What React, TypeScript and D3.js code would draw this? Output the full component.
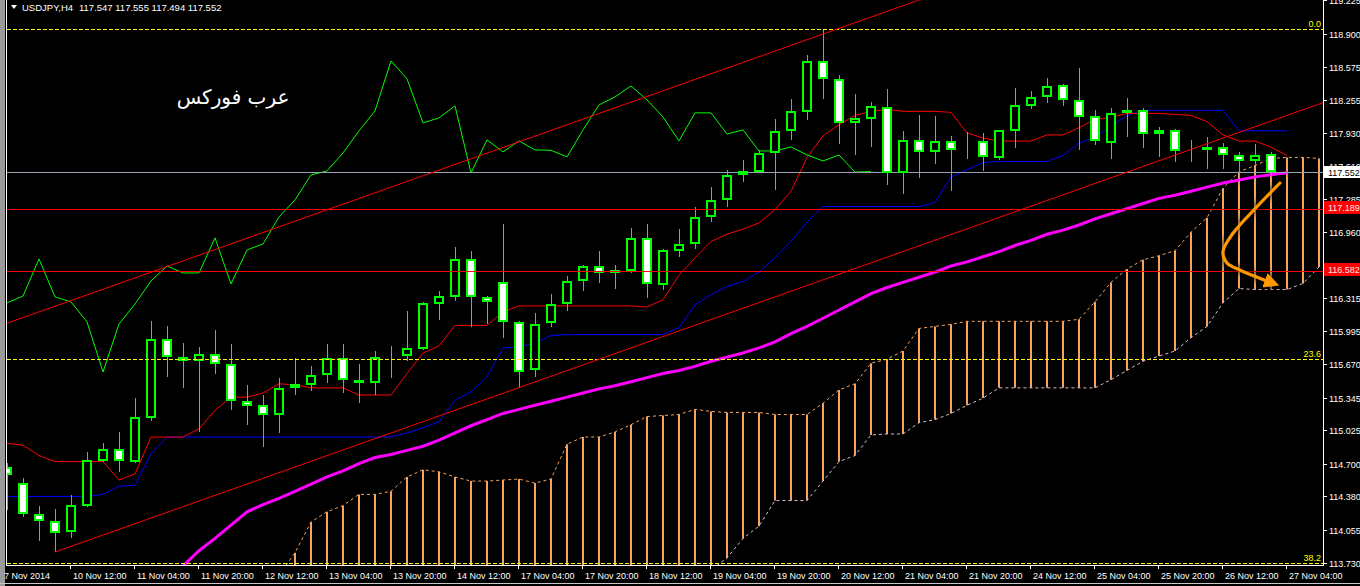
import React from "react";
import * as d3 from "d3";

// ---------- DATA ----------
const opens = [114.668, 114.511, 114.209, 114.140, 114.033, 114.287, 114.726, 114.843, 114.716, 115.146,
  115.918, 115.742, 115.703, 115.771, 115.673, 115.312, 115.273, 115.175, 115.439, 115.468,
  115.566, 115.732, 115.517, 115.488, 115.742, 115.751, 115.820, 116.259, 116.328, 116.699,
  116.328, 116.474, 116.084, 115.615, 116.074, 116.259, 116.484, 116.630, 116.591, 116.582,
  116.904, 116.445, 116.777, 116.845, 117.109, 117.275, 117.519, 117.548, 117.734, 117.949,
  118.134, 118.632, 118.457, 118.027, 118.066, 118.183, 117.539, 117.861, 117.744, 117.851,
  117.765, 117.851, 117.685, 117.949, 118.193, 118.281, 118.398, 118.251, 118.095, 117.832,
  118.154, 118.154, 117.919, 117.959, 117.763, 117.763, 117.793, 117.714, 117.656, 117.724,
  117.547];
const highs = [114.707, 114.560, 114.287, 114.257, 114.394, 114.814, 114.902, 115.009, 115.341, 116.093,
  116.044, 115.878, 115.839, 116.005, 115.869, 115.468, 115.371, 115.537, 115.732, 115.654,
  115.869, 115.869, 115.673, 115.800, 115.849, 116.191, 116.279, 116.386, 116.816, 116.777,
  116.337, 117.041, 116.093, 116.171, 116.357, 116.533, 116.640, 116.777, 116.640, 117.001,
  117.041, 116.796, 116.992, 117.207, 117.402, 117.568, 117.666, 117.763, 118.066, 118.261,
  118.691, 118.935, 118.496, 118.310, 118.232, 118.359, 117.949, 118.105, 118.095, 117.900,
  117.939, 117.929, 117.959, 118.369, 118.339, 118.466, 118.408, 118.564, 118.154, 118.173,
  118.271, 118.173, 117.988, 117.968, 117.861, 117.890, 117.832, 117.744, 117.822, 117.744,
  117.555];
const lows = [114.248, 114.179, 113.945, 113.837, 113.974, 114.277, 114.716, 114.619, 114.707, 115.117,
  115.546, 115.439, 115.009, 115.576, 115.224, 115.078, 114.863, 115.000, 115.371, 115.410,
  115.488, 115.390, 115.293, 115.371, 115.537, 115.703, 115.810, 116.103, 116.289, 116.035,
  116.064, 115.927, 115.439, 115.546, 116.035, 116.191, 116.386, 116.464, 116.406, 116.562,
  116.318, 116.396, 116.718, 116.796, 117.060, 117.207, 117.451, 117.538, 117.373, 117.861,
  118.056, 118.261, 117.822, 117.714, 117.793, 117.421, 117.334, 117.490, 117.626, 117.363,
  117.675, 117.558, 117.666, 117.783, 118.164, 118.222, 118.193, 117.763, 117.812, 117.675,
  117.890, 117.783, 117.695, 117.646, 117.646, 117.578, 117.578, 117.421, 117.617, 117.490,
  117.494];
const closes = [114.589, 114.209, 114.140, 114.023, 114.296, 114.736, 114.843, 114.726, 115.156, 115.918,
  115.742, 115.703, 115.771, 115.673, 115.312, 115.263, 115.175, 115.439, 115.478, 115.566,
  115.732, 115.517, 115.488, 115.742, 115.751, 115.830, 116.269, 116.337, 116.699, 116.328,
  116.279, 116.084, 115.595, 116.064, 116.259, 116.484, 116.630, 116.562, 116.562, 116.904,
  116.455, 116.787, 116.845, 117.109, 117.275, 117.519, 117.558, 117.734, 117.949, 118.144,
  118.632, 118.457, 118.027, 118.076, 118.193, 117.539, 117.861, 117.744, 117.851, 117.763,
  117.760, 117.695, 117.959, 118.203, 118.281, 118.388, 118.251, 118.085, 117.851, 118.125,
  118.125, 117.919, 117.959, 117.753, 117.753, 117.793, 117.714, 117.656, 117.714, 117.547,
  117.552];

const tenkan = [114.90, 114.88, 114.78, 114.72, 114.72, 114.72, 114.72, 114.54, 114.60, 114.96,
  114.96, 114.96, 115.04, 115.22, 115.35, 115.35, 115.39, 115.48, 115.47, 115.44,
  115.44, 115.44, 115.37, 115.37, 115.37, 115.58, 115.78, 115.85, 116.05, 116.05,
  116.05, 116.18, 116.24, 116.24, 116.24, 116.24, 116.24, 116.24, 116.24, 116.24,
  116.23, 116.30, 116.54, 116.71, 116.87, 116.94, 116.99, 117.05, 117.18, 117.36,
  117.69, 117.90, 118.01, 118.10, 118.14, 118.16, 118.14, 118.14, 118.14, 118.13,
  117.93, 117.88, 117.85, 117.85, 117.85, 117.91, 117.91, 117.98, 118.06, 118.08,
  118.12, 118.12, 118.12, 118.11, 118.10, 118.04, 117.91, 117.85, 117.85, 117.79,
  117.71];
const kijun = [114.38, 114.38, 114.38, 114.38, 114.38, 114.38, 114.40, 114.48, 114.49, 114.80,
  114.96, 114.96, 114.96, 114.96, 114.96, 114.96, 114.96, 114.96, 114.96, 114.96,
  114.96, 114.96, 114.96, 114.96, 114.96, 115.00, 115.05, 115.11, 115.32, 115.40,
  115.55, 115.83, 115.84, 115.88, 115.95, 115.96, 115.96, 115.96, 115.96, 115.96,
  115.96, 115.96, 116.03, 116.25, 116.35, 116.43, 116.48, 116.57, 116.71, 116.87,
  117.06, 117.21, 117.21, 117.21, 117.21, 117.21, 117.21, 117.21, 117.25, 117.50,
  117.57, 117.64, 117.65, 117.65, 117.65, 117.65, 117.71, 117.83, 117.89, 117.99,
  118.10, 118.15, 118.15, 118.15, 118.15, 118.15, 118.15, 117.95, 117.95, 117.95,
  117.95];

const chikouShift = 26;
const spanStart = 17;
const spanA = [113.61, 113.83, 114.13, 114.23, 114.29, 114.40, 114.40, 114.43, 114.57, 114.64,
  114.62, 114.57, 114.53, 114.53, 114.54, 114.55, 114.51, 114.55, 114.89, 114.96,
  114.96, 115.01, 115.08, 115.16, 115.17, 115.18, 115.23, 115.21, 115.20, 115.20,
  115.20, 115.18, 115.18, 115.18, 115.29, 115.42, 115.48, 115.68, 115.72, 115.80,
  116.02, 116.04, 116.06, 116.09, 116.09, 116.09, 116.09, 116.09, 116.09, 116.09,
  116.11, 116.28, 116.47, 116.60, 116.69, 116.73, 116.78, 116.96, 117.10, 117.39,
  117.55, 117.61, 117.68, 117.69, 117.69, 117.68];
const spanB = [113.30, 113.30, 113.30, 113.30, 113.30, 113.30, 113.30, 113.30, 113.30, 113.30,
  113.30, 113.30, 113.30, 113.30, 113.30, 113.30, 113.30, 113.30, 113.30, 113.30,
  113.30, 113.30, 113.30, 113.30, 113.40, 113.45, 113.52, 113.66, 113.78, 113.97,
  114.09, 114.34, 114.34, 114.34, 114.53, 114.72, 114.78, 114.98, 114.99, 114.99,
  115.10, 115.13, 115.19, 115.27, 115.34, 115.44, 115.44, 115.44, 115.44, 115.44,
  115.44, 115.44, 115.52, 115.61, 115.70, 115.75, 115.80, 115.93, 116.04, 116.27,
  116.41, 116.40, 116.40, 116.40, 116.46, 116.62];

const maStart = 11;
const maValues = [113.70, 113.85, 113.97, 114.10, 114.23, 114.30, 114.36, 114.43, 114.50, 114.57,
  114.63, 114.70, 114.76, 114.79, 114.83, 114.87, 114.93, 115.00, 115.07, 115.13,
  115.19, 115.23, 115.27, 115.31, 115.35, 115.39, 115.43, 115.46, 115.50, 115.54,
  115.58, 115.61, 115.65, 115.70, 115.74, 115.78, 115.83, 115.89, 115.97, 116.04,
  116.12, 116.20, 116.28, 116.36, 116.42, 116.47, 116.52, 116.57, 116.63, 116.67,
  116.72, 116.77, 116.83, 116.88, 116.94, 116.98, 117.03, 117.09, 117.14, 117.19,
  117.24, 117.29, 117.32, 117.36, 117.40, 117.44, 117.47, 117.50, 117.52, 117.54];

const priceTicks = [119.225, 118.900, 118.575, 118.255, 117.930, 117.610, 117.285, 116.960, 116.640,
  116.315, 115.995, 115.670, 115.345, 115.025, 114.700, 114.380, 114.055, 113.730];

const timeLabelBars = [4, 8, 12, 16, 20, 24, 28, 32, 36, 40, 44, 48, 52, 56, 60, 64, 68, 72, 76, 80];
const timeLabelTexts = ["10 Nov 12:00", "11 Nov 04:00", "11 Nov 20:00", "12 Nov 12:00", "13 Nov 04:00",
  "13 Nov 20:00", "14 Nov 12:00", "17 Nov 04:00", "17 Nov 20:00", "18 Nov 12:00", "19 Nov 04:00",
  "19 Nov 20:00", "20 Nov 12:00", "21 Nov 04:00", "21 Nov 20:00", "24 Nov 12:00", "25 Nov 04:00",
  "25 Nov 20:00", "26 Nov 12:00", "27 Nov 04:00"];
const firstDateLabel = "7 Nov 2014";

const bidPrice = 117.552;
const hlinePrices = [117.189, 116.582];

const fibHigh = 118.942;
const fibLow = 105.29;
const fibLevels = [0, 23.6, 38.2];
const fibTexts = ["0.0", "23.6", "38.2"];

const channelBar1 = 3;
const channelPrice1 = 113.837;
const channelBar2 = 80;
const channelPrice2 = 118.10;
const channelWidth = 2.40;

const arrowBars = [79.56, 78.13, 76.63, 76.0, 76.25, 77.06, 78.31, 79.15];
const arrowPrices = [117.44, 117.21, 116.95, 116.77, 116.66, 116.59, 116.51, 116.46];

const headerSymbol = "USDJPY,H4";
const headerQuotes = "117.547 117.555 117.494 117.552";
const watermark = "عرب فوركس";

const FONT = "'Liberation Sans', Arial, sans-serif";

export default function App() {
  const W = 1360, H = 586;
  const plotR = 1323, plotB = 565, plotL = 7;
  const x = d3.scaleLinear().domain([0, 80]).range([7, 1287]);
  const y = d3.scaleLinear().domain([113.73, 118.9]).range([563, 33.5]);
  const cx = (i: number) => Math.round(x(i));

  const line = d3.line<[number, number]>().x(d => x(d[0])).y(d => y(d[1]));

  const tenkanPts = tenkan.map((v, i) => [i, v] as [number, number]);
  const kijunPts = kijun.map((v, i) => [i, v] as [number, number]);
  const chikouPts = closes.slice(chikouShift).map((v, i) => [i, v] as [number, number]);
  const spanAPts = spanA.map((v, i) => [spanStart + i, v] as [number, number]);
  const spanBPts = spanB.map((v, i) => [spanStart + i, v] as [number, number]);
  const maPts = maValues.map((v, i) => [maStart + i, v] as [number, number]);

  const slope = (channelPrice2 - channelPrice1) / (channelBar2 - channelBar1);
  const barLeft = x.invert(plotL - 1);
  const barRight = x.invert(plotR);
  const lowerAt = (b: number) => channelPrice1 + (b - channelBar1) * slope;
  const lowerLine = line([[channelBar1, lowerAt(channelBar1)], [barRight, lowerAt(barRight)]]);
  const upperLine = line([[barLeft, lowerAt(barLeft) + channelWidth], [barRight, lowerAt(barRight) + channelWidth]]);

  const arrowPath = d3.line<[number, number]>()
    .x(d => x(d[0])).y(d => y(d[1]))
    .curve(d3.curveCatmullRom.alpha(0.5))(arrowBars.map((b, i) => [b, arrowPrices[i]] as [number, number]));

  const fibPrice = (lv: number) => fibHigh - (lv / 100) * (fibHigh - fibLow);

  return (
    <div style={{ position: "absolute", left: 0, top: 0, width: W, height: H }}>
      <svg width={W} height={H} style={{ display: "block", background: "#000" }}>
        <defs>
          <clipPath id="plot"><rect x={plotL} y={0} width={plotR - plotL} height={plotB} /></clipPath>
          <filter id="glow" x="-30%" y="-30%" width="160%" height="160%">
            <feGaussianBlur in="SourceAlpha" stdDeviation="3" result="b" />
            <feFlood floodColor="#000" floodOpacity="0.85" />
            <feComposite in2="b" operator="in" result="s" />
            <feMerge><feMergeNode in="s" /><feMergeNode in="s" /><feMergeNode in="SourceGraphic" /></feMerge>
          </filter>
          <marker id="ah" viewBox="0 0 10 10" refX="6" refY="5" markerWidth="5" markerHeight="5" orient="auto" markerUnits="strokeWidth">
            <path d="M0,0 L10,5 L0,10 z" fill="#ff9900" />
          </marker>
        </defs>
        <rect x={0} y={0} width={W} height={H} fill="#000" />

        <g clipPath="url(#plot)">
          {/* Ichimoku cloud */}
          {spanA.map((a, i) => (
            <line key={"h" + i} x1={cx(spanStart + i)} x2={cx(spanStart + i)} y1={y(a)} y2={y(spanB[i])}
              stroke="#f4a460" strokeWidth={2} />
          ))}
          <path d={line(spanAPts) || ""} fill="none" stroke="#f4a460" strokeWidth={1} strokeDasharray="3,3" />
          <path d={line(spanBPts) || ""} fill="none" stroke="#d8bfd8" strokeWidth={1} strokeDasharray="3,3" />

          {/* moving average */}
          <path d={line(maPts) || ""} fill="none" stroke="#ff00ff" strokeWidth={3} />

          {/* Tenkan / Kijun / Chikou */}
          <path d={line(kijunPts) || ""} fill="none" stroke="#0000ff" strokeWidth={1} />
          <path d={line(tenkanPts) || ""} fill="none" stroke="#ff0000" strokeWidth={1} />
          <path d={line(chikouPts) || ""} fill="none" stroke="#00ff00" strokeWidth={1} />

          {/* bid line */}
          <line x1={plotL} x2={plotR} y1={Math.round(y(bidPrice)) + 0.5} y2={Math.round(y(bidPrice)) + 0.5} stroke="#9aa4b0" strokeWidth={1} />

          {/* candles */}
          {opens.map((o, i) => {
            const c = closes[i];
            const px = cx(i);
            const top = Math.round(y(Math.max(o, c)));
            const bot = Math.round(y(Math.min(o, c)));
            const h = Math.max(bot - top - 2, 0);
            return (
              <g key={"c" + i}>
                <line x1={px + 0.5} x2={px + 0.5} y1={Math.round(y(highs[i]))} y2={Math.round(y(lows[i]))} stroke="#00ff00" strokeWidth={1} />
                <rect x={px - 4} y={top + 1} width={8} height={h} fill={c >= o ? "#000" : "#fff"} stroke="#00ff00" strokeWidth={2} />
              </g>
            );
          })}

          {/* horizontal lines */}
          {hlinePrices.map((p, i) => (
            <line key={"hl" + i} x1={plotL} x2={plotR} y1={Math.round(y(p)) + 0.5} y2={Math.round(y(p)) + 0.5} stroke="#ff0000" strokeWidth={1} />
          ))}

          {/* fibonacci */}
          {fibLevels.map((lv, i) => {
            const yy = Math.round(y(fibPrice(lv))) + 0.5;
            return (
              <g key={"f" + i}>
                <line x1={plotL} x2={plotR} y1={yy} y2={yy} stroke="#ffff00" strokeWidth={1} strokeDasharray="4,2" />
                <text x={plotR - 2} y={yy - 2.5} fill="#ffff00" fontSize={9} fontFamily={FONT} textAnchor="end">{fibTexts[i]}</text>
              </g>
            );
          })}

          {/* channel */}
          <path d={lowerLine || ""} fill="none" stroke="#ff0000" strokeWidth={1} />
          <path d={upperLine || ""} fill="none" stroke="#ff0000" strokeWidth={1} />

          {/* arrow annotation */}
          <path d={arrowPath || ""} fill="none" stroke="#ff9900" strokeWidth={3} strokeLinecap="round" markerEnd="url(#ah)" filter="url(#glow)" />

          <text x={233} y={104} fill="#fff" fontSize={20} fontFamily="'DejaVu Sans', sans-serif" textAnchor="middle">{watermark}</text>
        </g>

        {/* frame */}
        <rect x={0} y={0} width={5} height={H} fill="#9a9a9a" />
        <line x1={6.5} x2={6.5} y1={0} y2={plotB} stroke="#ffffff" strokeWidth={1} />
        <line x1={plotR + 0.5} x2={plotR + 0.5} y1={0} y2={plotB + 1} stroke="#ffffff" strokeWidth={1} />
        <line x1={6} x2={plotR + 1} y1={plotB + 0.5} y2={plotB + 0.5} stroke="#ffffff" strokeWidth={1} />
        <line x1={0} x2={W} y1={583.5} y2={583.5} stroke="#c8c8c8" strokeWidth={1} />

        {/* price axis */}
        {priceTicks.map((p, i) => {
          const yy = Math.round(y(p)) + 0.5;
          return (
            <g key={"pt" + i}>
              <line x1={plotR + 1} x2={plotR + 4} y1={yy} y2={yy} stroke="#fff" strokeWidth={1} />
              <text x={1329} y={yy + 3.3} fill="#fff" fontSize={9} fontFamily={FONT}>{p.toFixed(3)}</text>
            </g>
          );
        })}
        {/* value boxes */}
        <rect x={1324} y={Math.round(y(bidPrice)) - 6} width={36} height={12} fill="#fff" />
        <text x={1328} y={Math.round(y(bidPrice)) + 3.5} fill="#000" fontSize={9} fontFamily={FONT}>{bidPrice.toFixed(3)}</text>
        {hlinePrices.map((p, i) => (
          <g key={"hb" + i}>
            <rect x={1324} y={Math.round(y(p)) - 8} width={36} height={13} fill="#ff0000" />
            <text x={1328} y={Math.round(y(p)) + 2} fill="#ffe8e8" fontSize={9} fontFamily={FONT}>{p.toFixed(3)}</text>
          </g>
        ))}

        {/* time axis */}
        <text x={4} y={578.5} fill="#fff" fontSize={9} fontFamily={FONT}>{firstDateLabel}</text>
        {timeLabelBars.map((b, i) => (
          <g key={"tl" + i}>
            <line x1={cx(b) - 0.5} x2={cx(b) - 0.5} y1={plotB} y2={plotB + 4} stroke="#fff" strokeWidth={1} />
            <text x={cx(b) + 2} y={578.5} fill="#fff" fontSize={9} fontFamily={FONT}>{timeLabelTexts[i]}</text>
          </g>
        ))}

        {/* header */}
        <path d="M11,5 L17,5 L14,9 Z" fill="#fff" />
        <text x={22} y={11} fill="#fff" fontSize={9.5} fontFamily={FONT}>{headerSymbol}</text>
        <text x={79} y={11} fill="#fff" fontSize={9.5} fontFamily={FONT}>{headerQuotes}</text>
      </svg>
    </div>
  );
}
